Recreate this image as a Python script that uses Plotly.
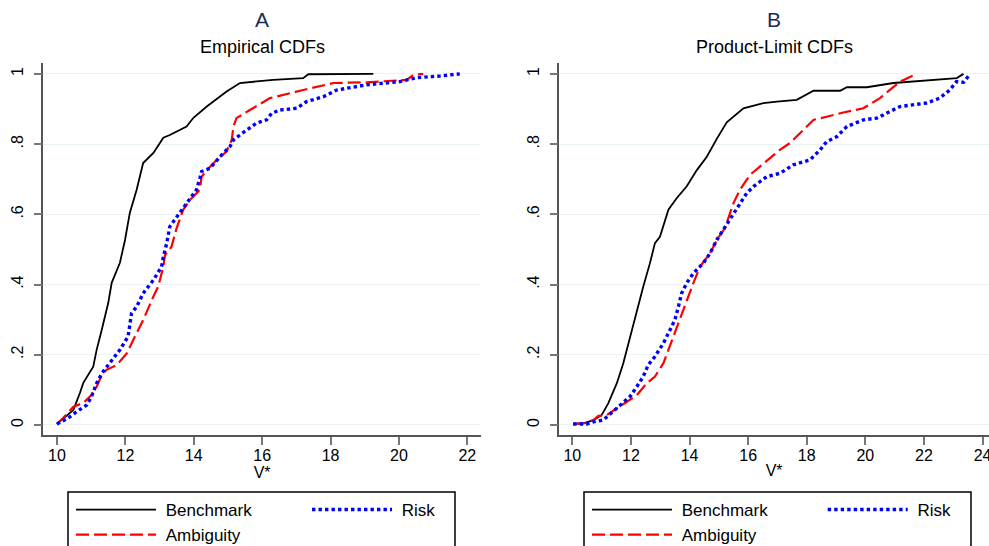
import plotly.graph_objects as go

# ---------------- data ----------------
# Panel A : Empirical CDFs
a_bench_x = [10.0, 10.48, 10.67, 10.77, 11.06, 11.16, 11.31, 11.50, 11.60, 11.84, 11.99, 12.04, 12.13,
             12.33, 12.52, 12.82, 13.11, 13.30, 13.79, 13.99, 14.38, 14.96, 15.35, 16.32, 17.20, 17.35, 19.25]
a_bench_y = [0.003, 0.043, 0.091, 0.120, 0.166, 0.214, 0.271, 0.348, 0.405, 0.462, 0.527, 0.556, 0.604,
             0.670, 0.746, 0.775, 0.818, 0.826, 0.850, 0.875, 0.907, 0.950, 0.974, 0.983, 0.988, 0.999, 1.0]

a_amb_x = [10.0, 10.18, 10.48, 10.77, 11.01, 11.16, 11.31, 11.45, 11.75, 12.04, 12.23, 12.52, 12.82, 12.96,
           13.11, 13.16, 13.35, 13.50, 13.69, 13.89, 14.18, 14.23, 14.38, 14.72, 14.96, 15.11, 15.16, 15.25,
           15.64, 16.23, 17.20, 18.08, 19.06, 20.23, 20.42, 20.71]
a_amb_y = [0.003, 0.020, 0.052, 0.063, 0.085, 0.109, 0.142, 0.157, 0.171, 0.204, 0.242, 0.299, 0.366, 0.394,
           0.451, 0.484, 0.508, 0.561, 0.613, 0.641, 0.670, 0.707, 0.726, 0.760, 0.779, 0.812, 0.850, 0.874,
           0.897, 0.931, 0.954, 0.974, 0.976, 0.983, 0.997, 1.0]

a_risk_x = [10.0, 10.33, 10.58, 10.87, 11.01, 11.16, 11.31, 11.55, 11.84, 12.08, 12.13, 12.18, 12.33, 12.52,
            12.82, 13.06, 13.11, 13.21, 13.30, 13.50, 13.79, 14.08, 14.18, 14.23, 14.47, 14.67, 14.86, 15.06,
            15.16, 15.35, 15.55, 15.84, 16.13, 16.28, 16.52, 17.01, 17.30, 17.79, 18.18, 19.06, 20.03, 20.27,
            20.52, 21.20, 21.78]
a_risk_y = [0.003, 0.020, 0.038, 0.057, 0.081, 0.119, 0.147, 0.176, 0.214, 0.252, 0.280, 0.318, 0.337, 0.375,
            0.413, 0.451, 0.479, 0.518, 0.565, 0.593, 0.632, 0.670, 0.703, 0.722, 0.731, 0.755, 0.774, 0.793,
            0.812, 0.826, 0.840, 0.860, 0.869, 0.888, 0.897, 0.902, 0.921, 0.935, 0.954, 0.969, 0.978, 0.983,
            0.989, 0.994, 1.0]

# Panel B : Product-Limit CDFs
b_bench_x = [10.03, 10.38, 10.72, 11.00, 11.23, 11.52, 11.74, 11.97, 12.20, 12.42, 12.65, 12.82, 12.99,
             13.28, 13.56, 13.90, 14.25, 14.59, 14.93, 15.27, 15.84, 16.52, 16.98, 17.66, 18.23, 19.14,
             19.37, 20.05, 20.96, 23.12, 23.35]
b_bench_y = [0.003, 0.005, 0.014, 0.028, 0.062, 0.119, 0.176, 0.252, 0.328, 0.394, 0.461, 0.518, 0.536,
             0.613, 0.646, 0.679, 0.726, 0.764, 0.815, 0.862, 0.902, 0.917, 0.921, 0.926, 0.952, 0.952,
             0.962, 0.962, 0.974, 0.988, 1.0]

b_amb_x = [10.03, 10.43, 10.72, 10.89, 11.17, 11.52, 11.86, 12.20, 12.54, 12.82, 13.11, 13.28, 13.45, 13.68,
           13.90, 14.13, 14.36, 14.70, 14.93, 15.21, 15.50, 15.72, 16.06, 16.63, 17.12, 17.43, 17.77, 18.23,
           18.68, 19.25, 19.93, 20.50, 21.18, 21.75]
b_amb_y = [0.003, 0.005, 0.014, 0.026, 0.028, 0.048, 0.066, 0.085, 0.119, 0.138, 0.176, 0.214, 0.252, 0.309,
           0.356, 0.404, 0.451, 0.489, 0.527, 0.561, 0.632, 0.670, 0.712, 0.752, 0.786, 0.803, 0.831, 0.869,
           0.878, 0.890, 0.902, 0.931, 0.978, 1.0]

b_risk_x = [10.03, 10.49, 10.72, 11.06, 11.34, 11.63, 11.97, 12.20, 12.42, 12.59, 12.82, 13.11, 13.33, 13.50,
            13.62, 13.73, 13.90, 14.13, 14.47, 14.70, 14.93, 15.15, 15.61, 15.95, 16.18, 16.63, 17.09, 17.54,
            18.11, 18.45, 18.68, 19.02, 19.37, 19.93, 20.39, 20.73, 21.18, 22.09, 22.54, 22.88, 23.11, 23.35,
            23.52]
b_risk_y = [0.003, 0.003, 0.009, 0.014, 0.035, 0.057, 0.081, 0.109, 0.138, 0.171, 0.195, 0.233, 0.271, 0.299,
            0.337, 0.375, 0.404, 0.432, 0.461, 0.489, 0.527, 0.556, 0.613, 0.660, 0.679, 0.707, 0.717, 0.741,
            0.755, 0.783, 0.807, 0.821, 0.850, 0.869, 0.874, 0.888, 0.907, 0.917, 0.931, 0.954, 0.978, 0.976,
            0.994]

series_names = ["Benchmark", "Ambiguity", "Risk"]
panel_letters = ["A", "B"]
panel_subtitles = ["Empirical CDFs", "Product-Limit CDFs"]
x_title = "V*"
y_tickvals = [0, 0.2, 0.4, 0.6, 0.8, 1.0]
y_ticktext = ["0", ".2", ".4", ".6", ".8", "1"]
a_xticks = [10, 12, 14, 16, 18, 20, 22]
b_xticks = [10, 12, 14, 16, 18, 20, 22, 24]

# ---------------- figure ----------------
W, H = 989, 546
FONT = "Liberation Sans, Arial, sans-serif"


def fx(p):
    return p / W


def fy(p):
    return 1 - p / H


styles = {
    "Benchmark": dict(color="black", width=1.8, dash="solid"),
    "Ambiguity": dict(color="#ff0000", width=2.2, dash="13px,5px"),
    "Risk": dict(color="#0000ff", width=3.4, dash="3.4px,3.1px"),
}

panels = [
    ("x", "y", [(a_bench_x, a_bench_y), (a_amb_x, a_amb_y), (a_risk_x, a_risk_y)], ["legend", "legend", "legend2"]),
    ("x2", "y2", [(b_bench_x, b_bench_y), (b_amb_x, b_amb_y), (b_risk_x, b_risk_y)], ["legend3", "legend3", "legend4"]),
]

fig = go.Figure()
for xa, ya, data, legs in panels:
    for name, (xs, ys), lg in zip(series_names, data, legs):
        fig.add_trace(go.Scatter(
            x=xs, y=ys, mode="lines", name="\u00a0" + name,
            line=styles[name], xaxis=xa, yaxis=ya, legend=lg,
            hoverinfo="skip",
        ))

axis_common = dict(
    showline=True, linecolor="#555555", linewidth=1.6, automargin=False,
    ticks="outside", ticklen=8, tickwidth=1.6, tickcolor="#777777",
    zeroline=False, tickfont=dict(family=FONT, size=16, color="black"),
)
ydom = [fy(435), fy(63)]
fig.update_layout(
    width=W, height=H,
    margin=dict(l=0, r=0, t=0, b=0, autoexpand=False),
    paper_bgcolor="white", plot_bgcolor="white",
    font=dict(family=FONT, color="black"),
    xaxis=dict(domain=[fx(43.3), fx(481)], range=[9.6, 22.4], anchor="y",
               tickvals=a_xticks, showgrid=False, ticklabelstandoff=-3,
               title=dict(text=x_title, font=dict(family=FONT, size=16), standoff=2),
               **axis_common),
    yaxis=dict(domain=ydom, range=[-0.0285, 1.031], anchor="x",
               tickvals=y_tickvals, ticktext=y_ticktext, tickangle=-90,
               showgrid=True, gridcolor="#eaf2f3", gridwidth=1, ticklabelstandoff=4,
               **axis_common),
    xaxis2=dict(domain=[fx(559.3), 1.0], range=[9.556, 24.22], anchor="y2",
                tickvals=b_xticks, showgrid=False, ticklabelstandoff=-3, ticklabeloverflow="allow",
                title=dict(text=x_title, font=dict(family=FONT, size=16), standoff=2),
                **axis_common),
    yaxis2=dict(domain=ydom, range=[-0.0285, 1.031], anchor="x2",
                tickvals=y_tickvals, ticktext=y_ticktext, tickangle=-90,
                showgrid=True, gridcolor="#eaf2f3", gridwidth=1, ticklabelstandoff=4,
                **axis_common),
)

leg_common = dict(orientation="v", xanchor="left", yanchor="top", bgcolor="rgba(0,0,0,0)",
                  borderwidth=0, font=dict(family=FONT, size=17, color="black"),
                  itemwidth=80, tracegroupgap=0, itemclick=False, itemdoubleclick=False)
fig.update_layout(
    legend=dict(x=fx(71), y=fy(492), **leg_common),
    legend2=dict(x=fx(307), y=fy(492), **leg_common),
    legend3=dict(x=fx(587), y=fy(492), **leg_common),
    legend4=dict(x=fx(822.7), y=fy(492), **leg_common),
)

# legend frames
for x0, x1 in [(68, 455), (584, 971)]:
    fig.add_shape(type="rect", xref="paper", yref="paper",
                  x0=fx(x0), x1=fx(x1), y0=-0.1, y1=fy(492),
                  line=dict(color="black", width=1.5), fillcolor="rgba(0,0,0,0)")

# panel titles
for cx, letter, sub in [(262, panel_letters[0], panel_subtitles[0]), (774, panel_letters[1], panel_subtitles[1])]:
    fig.add_annotation(x=fx(cx), y=fy(20), xref="paper", yref="paper", text=letter, showarrow=False,
                       font=dict(family=FONT, size=21, color="#1e2b57"), xanchor="center", yanchor="middle")
    fig.add_annotation(x=fx(cx), y=fy(47), xref="paper", yref="paper", text=sub, showarrow=False,
                       font=dict(family=FONT, size=18, color="black"), xanchor="center", yanchor="middle")

fig.write_html(
    "out.html",
    config={"displayModeBar": False},
    post_script="document.body.style.margin='0';document.body.style.overflow='hidden';",
)
